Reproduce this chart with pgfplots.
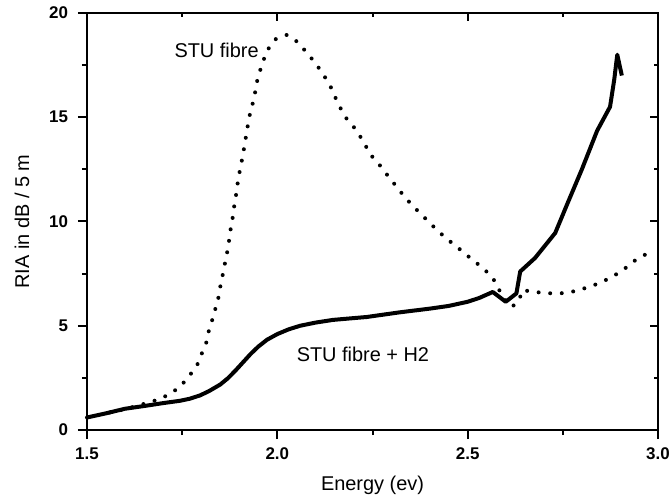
\documentclass[border=0pt]{standalone}
\usepackage{fontspec}
\setmainfont{Liberation Sans}
\usepackage{pgfplots}
\pgfplotsset{compat=1.18}

\begin{document}
\begin{tikzpicture}
% picture frame: the axis box sits with its lower left corner at the origin
\useasboundingbox (-43.5bp,-32.5bp) rectangle (291.5bp,215bp);
\pgfplotsset{
  common/.style={
    scale only axis,
    width=285.5bp, height=208.5bp,
    xmin=1.5, xmax=3.0, ymin=0, ymax=20,
    xtick={1.5,2.0,2.5,3.0}, ytick={0,5,10,15,20},
    minor x tick num=1, minor y tick num=1,
  }
}
\begin{axis}[
  common,
  axis line style={line width=1.2bp},
  every tick/.style={line width=1bp, black},
  tick align=outside,
  xtick pos=left, ytick pos=left,
  major tick length=4.5bp, minor tick length=2.5bp,
  /pgf/number format/assume math mode=true,
  xticklabel={\pgfmathprintnumber[fixed,fixed zerofill,precision=1]{\tick}},
  ticklabel style={font=\fontsize{8.5}{10}\selectfont\bfseries},
  xticklabel style={anchor=center, yshift=-7.5bp},
  yticklabel style={anchor=east, xshift=-1.5bp},
  xlabel={Energy (ev)},
  ylabel={RIA in dB / 5 m},
  label style={font=\fontsize{10}{12}\selectfont},
  xlabel style={at={(axis description cs:0.5,0)}, anchor=center, yshift=-27.5bp},
  ylabel style={at={(axis description cs:0,0.5)}, anchor=center, yshift=32.5bp},
  clip=false,
]
% STU fibre (dotted)
\addplot[black, line width=2bp, line cap=round, dash pattern=on 0bp off 5.8bp] coordinates {
(1.50,0.60) (1.55,0.80) (1.60,1.00) (1.62,1.10) (1.655,1.28) (1.684,1.44)
(1.713,1.68) (1.744,2.06) (1.769,2.60) (1.789,3.10) (1.800,3.60) (1.813,4.17)
(1.820,4.75) (1.829,5.28) (1.837,5.80) (1.845,6.33) (1.850,6.86) (1.856,7.39)
(1.862,7.96) (1.868,8.50) (1.873,9.06) (1.877,9.60) (1.882,10.10) (1.886,10.65)
(1.891,11.20) (1.895,11.75) (1.900,12.30) (1.906,12.85) (1.911,13.35) (1.916,13.90)
(1.921,14.45) (1.926,15.00) (1.933,15.50) (1.940,16.00) (1.945,16.60) (1.954,17.20)
(1.962,17.65) (1.973,18.20) (1.996,18.75) (2.025,18.95) (2.054,18.60) (2.077,18.10)
(2.100,17.60) (2.120,17.07) (2.138,16.55) (2.151,16.00) (2.167,15.40) (2.183,14.90)
(2.207,14.40) (2.225,13.86) (2.245,13.20) (2.267,12.75) (2.290,12.20) (2.314,11.65)
(2.338,11.10) (2.364,10.60) (2.393,10.07) (2.422,9.54) (2.450,9.10) (2.482,8.63)
(2.510,8.20) (2.540,7.77) (2.566,7.30) (2.580,6.80) (2.600,6.20) (2.616,5.90)
(2.635,6.20) (2.643,6.70) (2.669,6.65) (2.698,6.57) (2.729,6.55) (2.760,6.57)
(2.790,6.70) (2.818,6.86) (2.847,7.05) (2.879,7.34) (2.908,7.67) (2.937,8.10)
(2.970,8.45)
};

% STU fibre + H2 (solid)
\addplot[black, line width=2bp, line join=round] coordinates {
(1.50,0.60) (1.55,0.80) (1.60,1.02) (1.65,1.15) (1.70,1.29) (1.744,1.40)
(1.770,1.50) (1.797,1.66) (1.820,1.86) (1.850,2.18) (1.870,2.48) (1.890,2.85)
(1.910,3.25) (1.930,3.65) (1.950,4.00) (1.973,4.33) (2.000,4.60) (2.030,4.83)
(2.060,5.00) (2.100,5.15) (2.146,5.28) (2.190,5.35) (2.235,5.42) (2.320,5.64)
(2.400,5.82) (2.450,5.95) (2.500,6.15) (2.530,6.33) (2.566,6.62) (2.600,6.15)
(2.628,6.55) (2.638,7.60) (2.677,8.25) (2.730,9.45) (2.763,10.90) (2.800,12.50)
(2.840,14.35) (2.874,15.50) (2.885,16.80) (2.893,18.00) (2.905,17.00)
};

\node[anchor=east, inner sep=0, font=\fontsize{10}{12}\selectfont] at (axis cs:1.952,18.2) {STU fibre};
\node[anchor=west, inner sep=0, font=\fontsize{10}{12}\selectfont] at (axis cs:2.05,3.64) {STU fibre + H2};
\end{axis}

% inward ticks on the top and right edges
\begin{axis}[
  common,
  axis line style={draw=none},
  every tick/.style={line width=1bp, black},
  tick align=inside,
  xtick pos=right, ytick pos=right,
  major tick length=4bp, minor tick length=2bp,
  xticklabels={}, yticklabels={},
]
\end{axis}
\end{tikzpicture}
\end{document}
